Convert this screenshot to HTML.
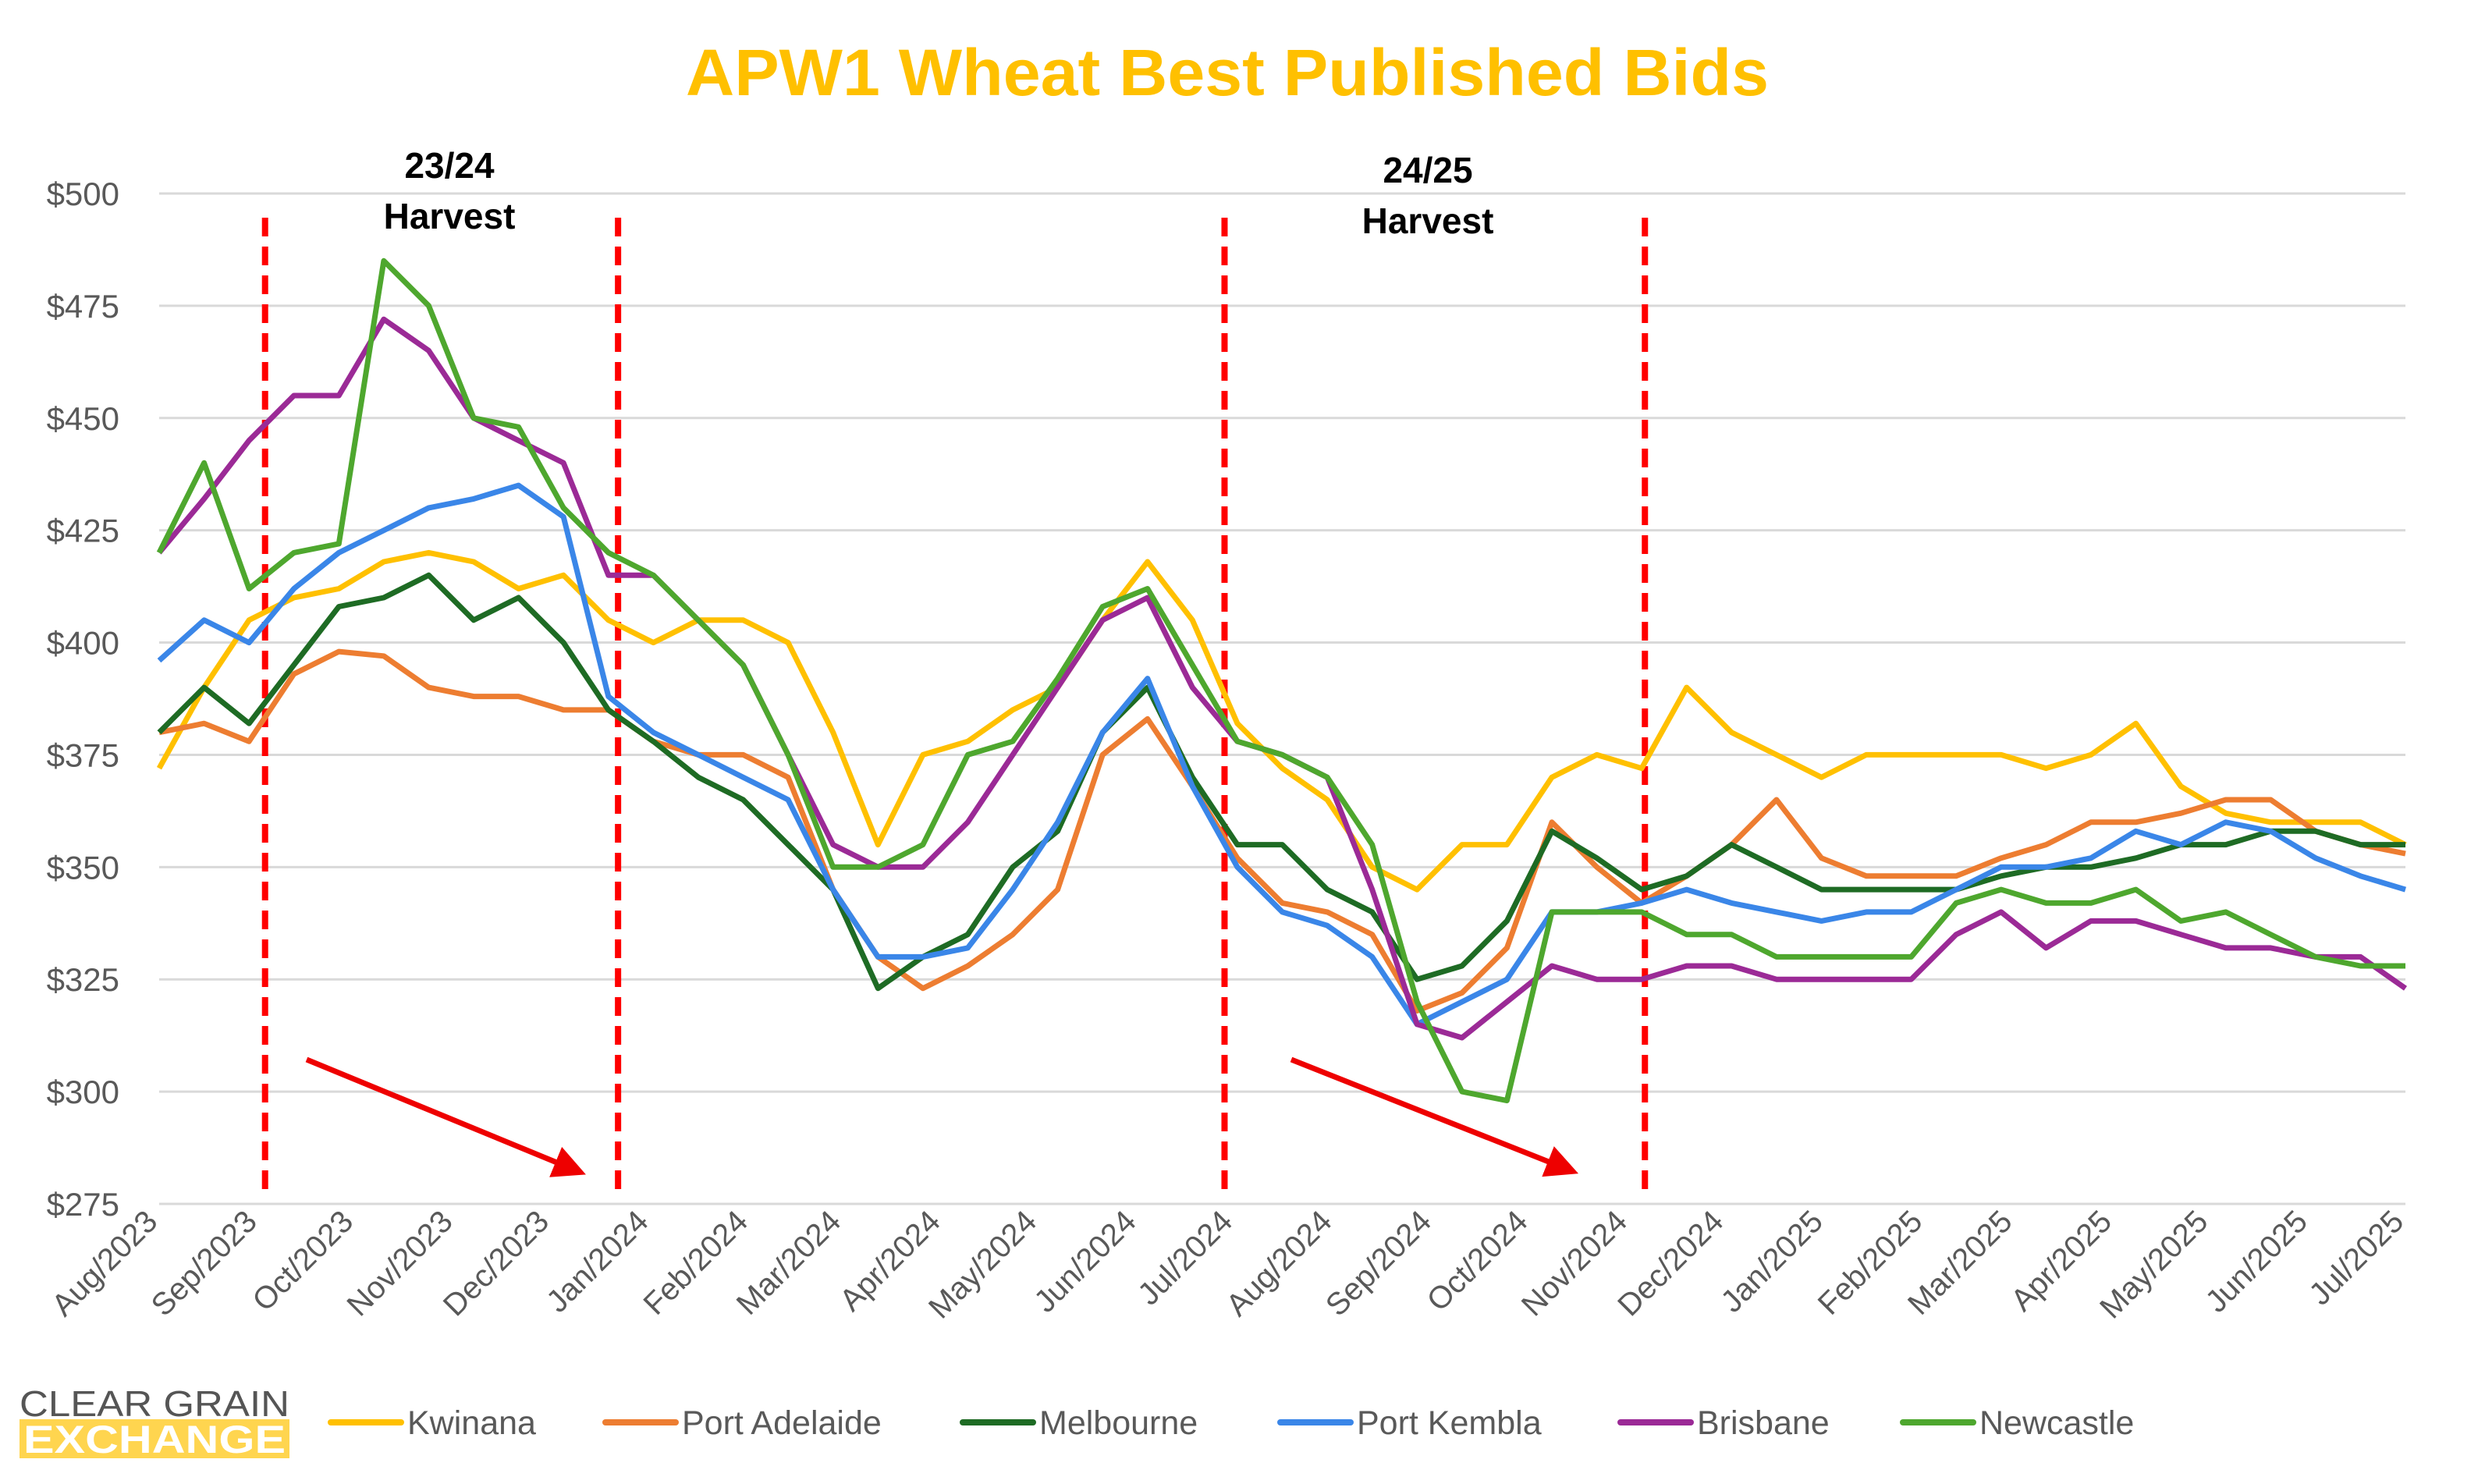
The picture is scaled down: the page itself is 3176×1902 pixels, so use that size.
<!DOCTYPE html>
<html><head><meta charset="utf-8"><style>
html,body{margin:0;padding:0;background:#fff}
svg{display:block;font-family:"Liberation Sans",Arial,sans-serif}
</style></head><body>
<svg id="chart" width="3176" height="1902" viewBox="0 0 3176 1902" xmlns="http://www.w3.org/2000/svg">
<rect width="3176" height="1902" fill="#fff"/>
<text x="1573" y="122" text-anchor="middle" font-size="84" font-weight="bold" fill="#FFC000" textLength="1388" lengthAdjust="spacingAndGlyphs">APW1 Wheat Best Published Bids</text>
<g id="grid"></g><g id="ylabels"></g><g id="xlabels"></g><g id="marks"></g><g id="series"></g>
<g font-weight="bold" font-size="46" text-anchor="middle" fill="#000">
<text x="576" y="228">23/24</text>
<text x="576" y="293">Harvest</text>
<text x="1830" y="234">24/25</text>
<text x="1830" y="299">Harvest</text>
</g>
<defs><marker id="ah" markerWidth="6" markerHeight="6" refX="4" refY="3" orient="auto" markerUnits="strokeWidth"><path d="M0,0 L6,3 L0,6 z" fill="#E00"/></marker></defs>
<line x1="393" y1="1358" x2="738" y2="1500" stroke="#E00" stroke-width="7" marker-end="url(#ah)"/>
<line x1="1655" y1="1358" x2="2010" y2="1499" stroke="#E00" stroke-width="7" marker-end="url(#ah)"/>
<g>
<text x="25" y="1815" font-size="46" fill="#555" textLength="346" lengthAdjust="spacingAndGlyphs">CLEAR GRAIN</text>
<rect x="25" y="1819" width="346" height="50" fill="#FFD54F"/>
<text x="30" y="1862" font-size="50" font-weight="bold" fill="#fff" textLength="336" lengthAdjust="spacingAndGlyphs">EXCHANGE</text>
</g>
<g id="legend"></g>
</svg>
<script>
const seriesNames=["Kwinana","Port Adelaide","Melbourne","Port Kembla","Brisbane","Newcastle"];
const seriesColors=["#FFC000","#ED7D31","#1E6B24","#3A86E8","#9B2A96","#4EA72E"];
const yTicks=[275,300,325,350,375,400,425,450,475,500];
const monthLabels=["Aug/2023","Sep/2023","Oct/2023","Nov/2023","Dec/2023","Jan/2024","Feb/2024","Mar/2024","Apr/2024","May/2024","Jun/2024","Jul/2024","Aug/2024","Sep/2024","Oct/2024","Nov/2024","Dec/2024","Jan/2025","Feb/2025","Mar/2025","Apr/2025","May/2025","Jun/2025","Jul/2025"];
const harvestDays=[33,143,332,463];
const dayStep=14;
const kwinana=[372,390,405,410,412,418,420,418,412,415,405,400,405,405,400,380,355,375,378,385,390,405,418,405,382,372,365,350,345,355,355,370,375,372,390,380,375,370,375,375,375,375,372,375,382,368,362,360,360,360,355];
const portAdelaide=[380,382,378,393,398,397,390,388,388,385,385,378,375,375,370,345,330,323,328,335,345,375,383,368,352,342,340,335,318,322,332,360,350,342,348,355,365,352,348,348,348,352,355,360,360,362,365,365,358,355,353];
const melbourne=[380,390,382,395,408,410,415,405,410,400,385,378,370,365,355,345,323,330,335,350,358,380,390,370,355,355,345,340,325,328,338,358,352,345,348,355,350,345,345,345,345,348,350,350,352,355,355,358,358,355,355];
const portKembla=[396,405,400,412,420,425,430,432,435,428,388,380,375,370,365,345,330,330,332,345,360,380,392,368,350,340,337,330,315,320,325,340,340,342,345,342,340,338,340,340,345,350,350,352,358,355,360,358,352,348,345];
const brisbane=[420,432,445,455,455,472,465,450,445,440,415,415,405,395,375,355,350,350,360,375,390,405,410,390,378,375,370,345,315,312,320,328,325,325,328,328,325,325,325,325,335,340,332,338,338,335,332,332,330,330,323];
const newcastle=[420,440,412,420,422,485,475,450,448,430,420,415,405,395,375,350,350,355,375,378,392,408,412,395,378,375,370,355,320,300,298,340,340,340,335,335,330,330,330,330,342,345,342,342,345,338,340,335,330,328,328];
const allSeries=[kwinana,portAdelaide,melbourne,portKembla,brisbane,newcastle];

const NS="http://www.w3.org/2000/svg";
const X0=204,X1=3083,Y0=1543,Y1=248,D=700,VMIN=275,VMAX=500;
function xScale(d){return X0+d*(X1-X0)/D;}
function yScale(v){return Y0-(v-VMIN)*(Y0-Y1)/(VMAX-VMIN);}
function mk(tag,parent){const e=document.createElementNS(NS,tag);parent.appendChild(e);return e;}
const grid=document.getElementById('grid'),yl=document.getElementById('ylabels'),xl=document.getElementById('xlabels'),marks=document.getElementById('marks'),sg=document.getElementById('series'),lg=document.getElementById('legend');
yTicks.forEach(v=>{
 const l=mk('line',grid);
 
 
 l.setAttribute('x1',X0);l.setAttribute('x2',X1);l.setAttribute('y1',yScale(v));l.setAttribute('y2',yScale(v));
 l.setAttribute('stroke','#d9d9d9');l.setAttribute('stroke-width','3');
 const t=mk('text',yl);
 
 
 t.setAttribute('x',153);t.setAttribute('y',yScale(v)+15);t.setAttribute('text-anchor','end');
 t.setAttribute('font-size','42');t.setAttribute('fill','#595959');t.textContent='$'+v;
});
const base=Date.UTC(2023,7,1);
monthLabels.forEach((s,i)=>{
 const d=(Date.UTC(2023,7+i,1)-base)/86400000;
 const x=xScale(d),y=1568;
 const t=mk('text',xl);
 
 
 t.setAttribute('x',x);t.setAttribute('y',y);t.setAttribute('text-anchor','end');
 t.setAttribute('font-size','40');t.setAttribute('fill','#595959');
 t.setAttribute('transform','rotate(-45 '+x+' '+y+')');t.textContent=s;
});
harvestDays.forEach(d=>{
 const l=mk('line',marks);
 
 
 l.setAttribute('x1',xScale(d));l.setAttribute('x2',xScale(d));l.setAttribute('y1',279);l.setAttribute('y2',1533);
 l.setAttribute('stroke','#FF0000');l.setAttribute('stroke-width','8');l.setAttribute('stroke-dasharray','24 13');
});
allSeries.forEach((arr,si)=>{
 const p=mk('polyline',sg);
 
 
 p.setAttribute('points',arr.map((v,i)=>xScale(i*dayStep).toFixed(1)+','+yScale(v).toFixed(1)).join(' '));
 p.setAttribute('fill','none');p.setAttribute('stroke',seriesColors[si]);p.setAttribute('stroke-width','7');p.setAttribute('stroke-linejoin','round');
});
const legX=[424,776,1234,1641,2077,2439];
seriesNames.forEach((n,i)=>{
 const l=mk('line',lg);
 
 
 l.setAttribute('x1',legX[i]);l.setAttribute('x2',legX[i]+90);l.setAttribute('y1',1823);l.setAttribute('y2',1823);
 l.setAttribute('stroke',seriesColors[i]);l.setAttribute('stroke-width','8');l.setAttribute('stroke-linecap','round');
 const t=mk('text',lg);
 
 
 t.setAttribute('x',legX[i]+98);t.setAttribute('y',1838);t.setAttribute('font-size','43');t.setAttribute('fill','#595959');t.textContent=n;
});
</script>
</body></html>
